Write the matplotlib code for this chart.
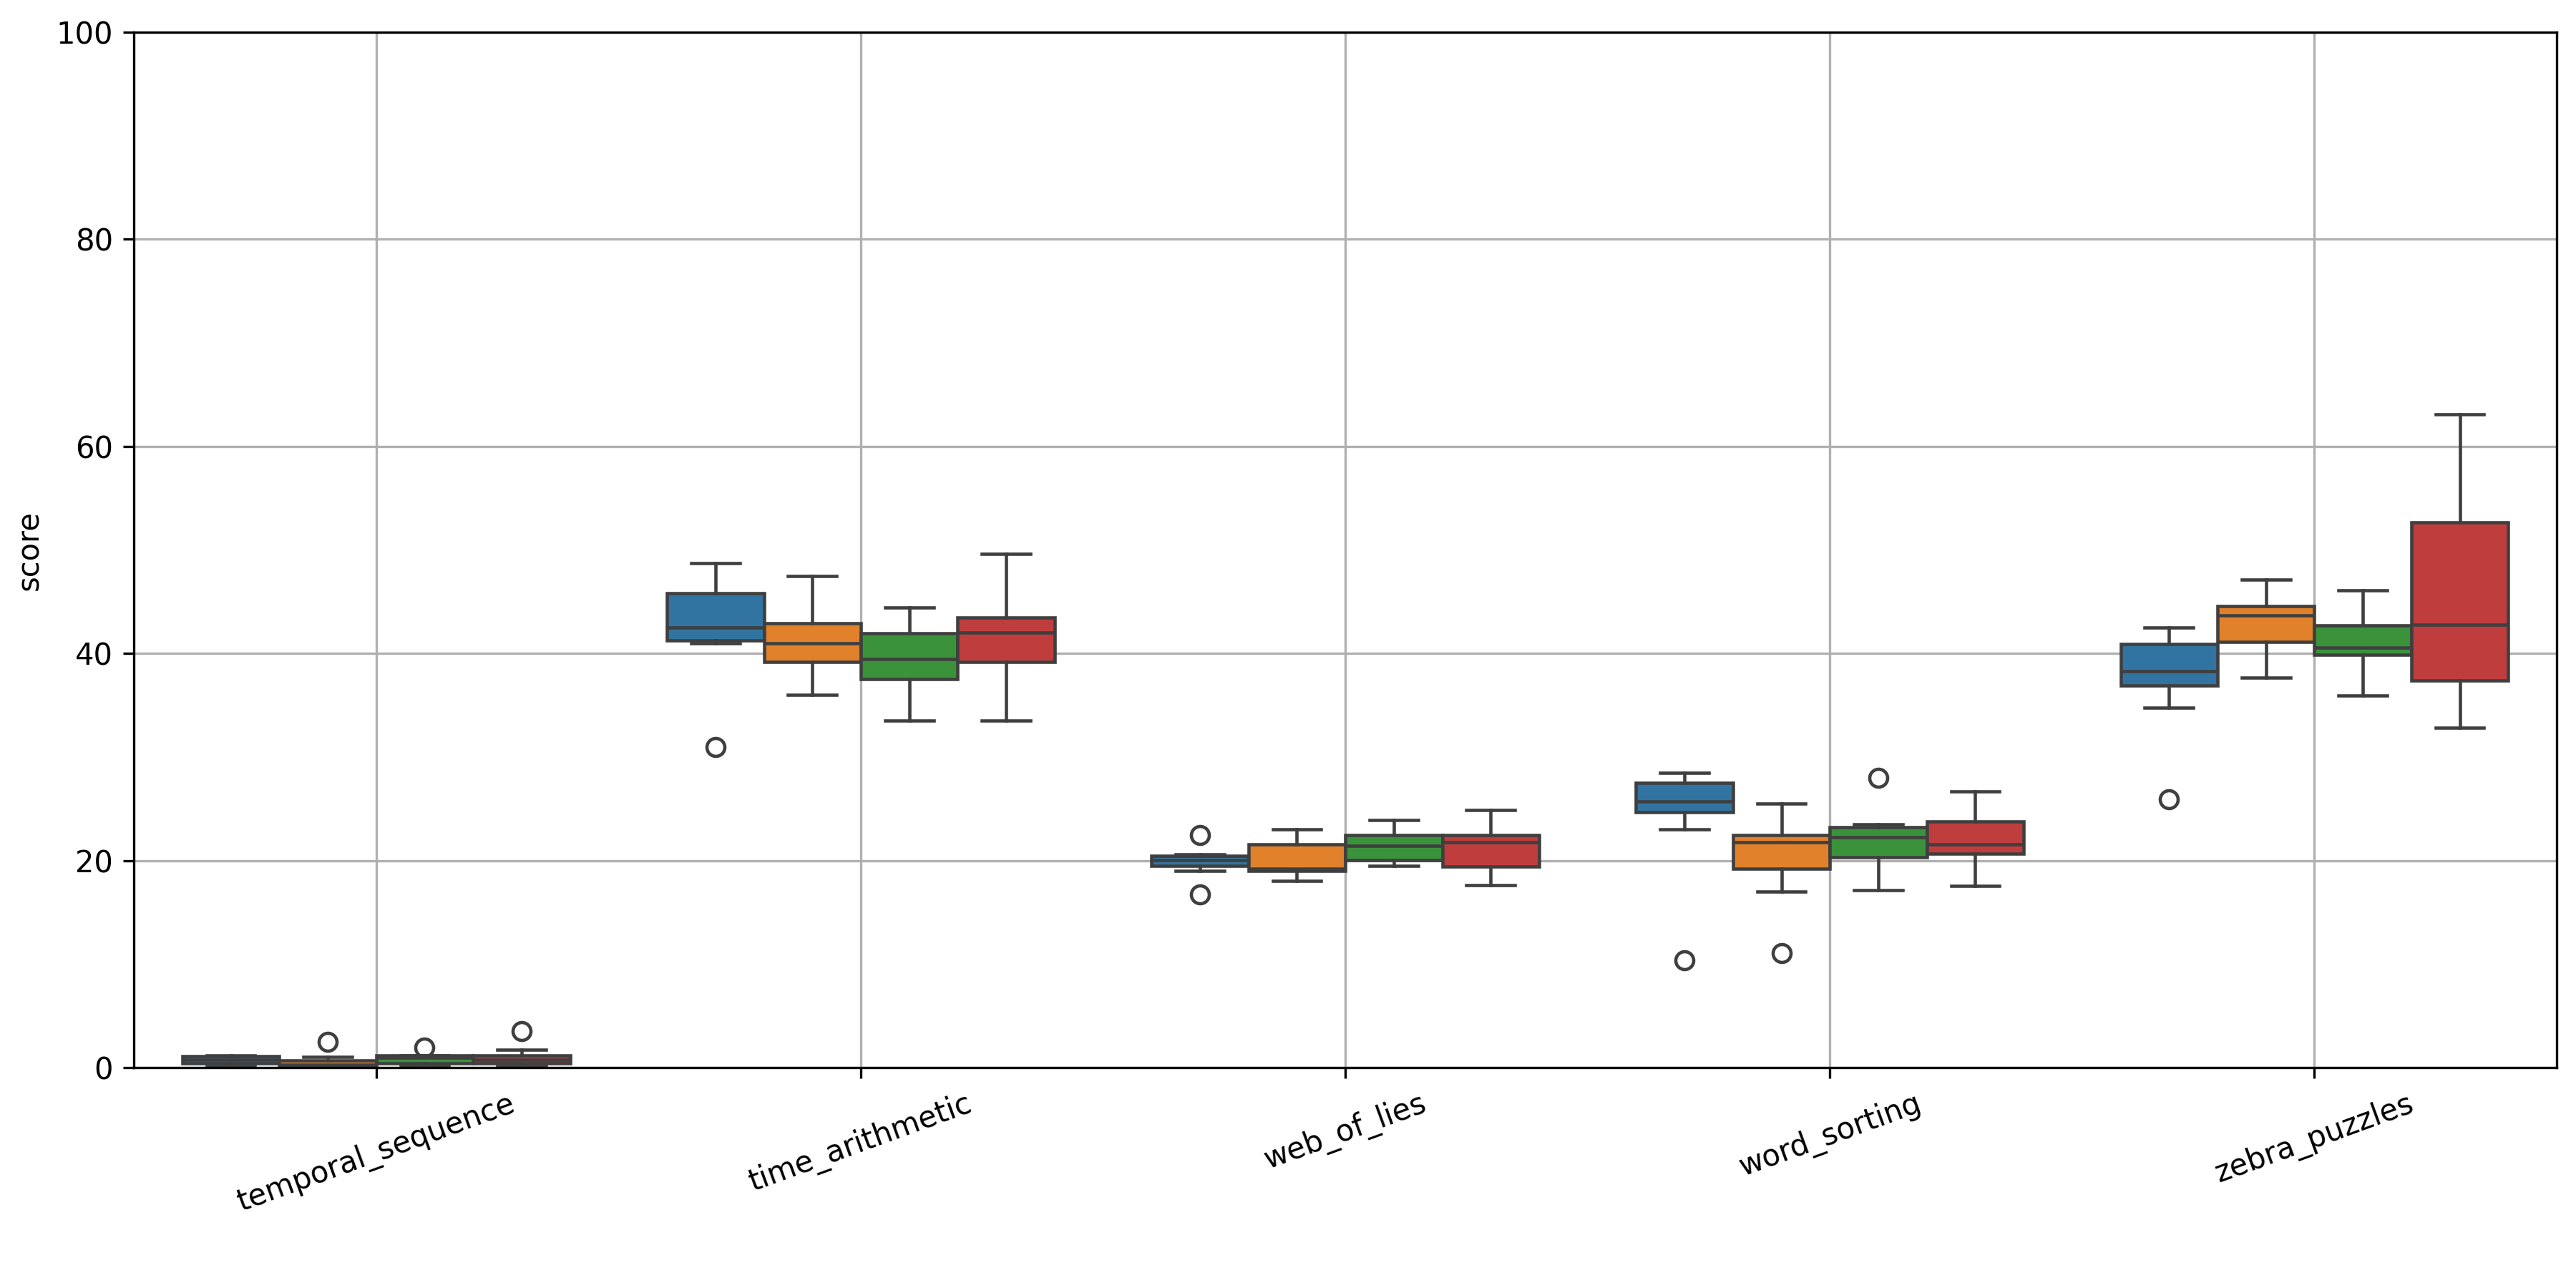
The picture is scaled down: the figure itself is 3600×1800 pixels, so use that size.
import matplotlib
matplotlib.use("Agg")
import matplotlib.pyplot as plt

# ----------------------------------------------------
# Data
# ----------------------------------------------------

tasks = [
    "temporal_sequence",
    "time_arithmetic",
    "web_of_lies",
    "word_sorting",
    "zebra_puzzles",
]

# one list per hue level, one entry per task
# each entry: (whislo, q1, med, q3, whishi, fliers)
hue0 = [
    (0.12, 0.45, 0.80, 1.15, 1.18, []),
    (41.0, 41.3, 42.5, 45.85, 48.7, [31.0]),
    (19.0, 19.47, 20.02, 20.5, 20.6, [22.5, 16.75]),
    (23.0, 24.7, 25.7, 27.5, 28.5, [10.4]),
    (34.8, 36.9, 38.3, 40.95, 42.5, [25.95]),
]
hue1 = [
    (0.0, 0.12, 0.30, 0.69, 1.06, [2.49]),
    (36.0, 39.2, 41.0, 42.95, 47.5, []),
    (18.05, 19.0, 19.25, 21.6, 23.0, []),
    (17.0, 19.25, 21.8, 22.45, 25.5, [11.05]),
    (37.7, 41.1, 43.7, 44.6, 47.15, []),
]
hue2 = [
    (0.12, 0.44, 1.0, 1.18, 1.22, [1.98]),
    (33.55, 37.55, 39.45, 41.95, 44.45, []),
    (19.5, 20.05, 21.4, 22.5, 23.95, []),
    (17.15, 20.35, 22.25, 23.2, 23.5, [28.0]),
    (35.95, 39.85, 40.55, 42.7, 46.1, []),
]
hue3 = [
    (0.12, 0.44, 0.75, 1.18, 1.77, [3.52]),
    (33.55, 39.2, 42.0, 43.45, 49.65, []),
    (17.6, 19.4, 21.75, 22.45, 24.9, []),
    (17.55, 20.65, 21.6, 23.8, 26.7, []),
    (32.85, 37.4, 42.8, 52.7, 63.1, []),
]

hue_series = [hue0, hue1, hue2, hue3]
hue_colors = ["#3274a1", "#e1812c", "#3a923a", "#c03d3e"]

# ----------------------------------------------------
# Figure
# ----------------------------------------------------

fig, ax = plt.subplots(figsize=(12, 6), dpi=300)
plt.subplots_adjust(left=0.052, right=0.9925, top=0.975, bottom=0.171)

edge = "#3f3f3f"
lw = 1.1
n_hue = len(hue_series)
box_w = 0.8 / n_hue

for h, (series, color) in enumerate(zip(hue_series, hue_colors)):
    stats = []
    for whislo, q1, med, q3, whishi, fliers in series:
        stats.append(
            dict(whislo=whislo, q1=q1, med=med, q3=q3,
                 whishi=whishi, fliers=fliers)
        )
    offset = -0.4 + box_w * (h + 0.5)
    positions = [i + offset for i in range(len(tasks))]
    ax.bxp(
        stats,
        positions=positions,
        widths=box_w,
        capwidths=box_w * 0.5,
        patch_artist=True,
        manage_ticks=False,
        boxprops=dict(facecolor=color, edgecolor=edge, linewidth=lw),
        medianprops=dict(color=edge, linewidth=lw),
        whiskerprops=dict(color=edge, linewidth=lw),
        capprops=dict(color=edge, linewidth=lw),
        flierprops=dict(marker="o", markerfacecolor="none",
                        markeredgecolor=edge, markersize=6,
                        markeredgewidth=lw),
        zorder=2,
    )

ax.set_xticks(range(len(tasks)))
ax.set_xticklabels(tasks, rotation=20)
ax.set_xlim(-0.5, len(tasks) - 0.5)
ax.set_ylim(0, 100)
ax.set_ylabel("score")
ax.set_xlabel("")
ax.grid(True)
ax.set_axisbelow(True)

fig.savefig("out.png", dpi=300)
